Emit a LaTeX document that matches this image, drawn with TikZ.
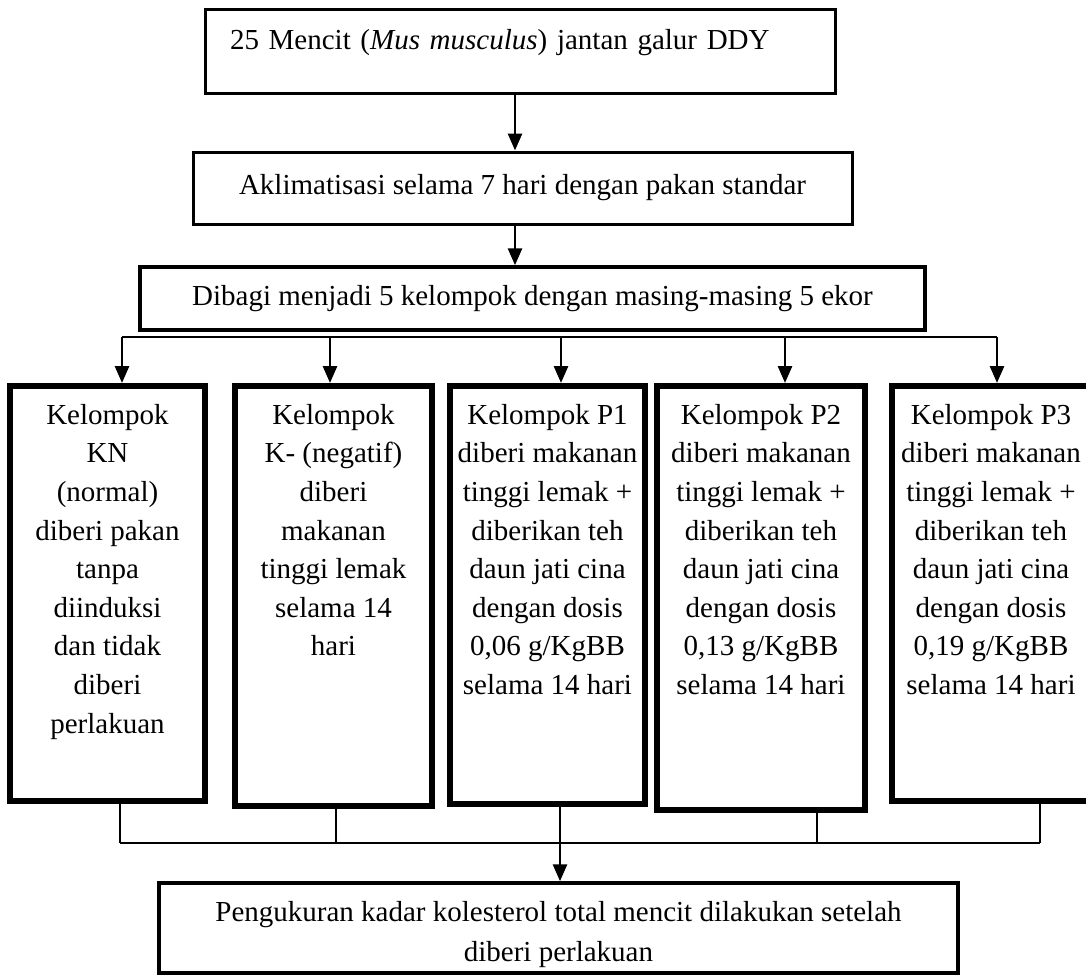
\documentclass[tikz,border=0pt]{standalone}
\usepackage{fontspec}
\setmainfont{Liberation Serif}
\usetikzlibrary{arrows.meta}

\begin{document}
\begin{tikzpicture}[x=1pt,y=-1pt,
    font=\fontsize{29}{38.6}\selectfont,
    box/.style={draw, line width=3pt, inner sep=0pt},
    grp/.style={draw, line width=5.5pt, anchor=north},
    grptext/.style={anchor=north, align=center, inner sep=0pt, yshift=-21pt},
    arr/.style={line width=2.8pt, -{Triangle[length=17pt,width=14pt]}},
    link/.style={line width=1.3pt}]
  \clip (0,0) rectangle (1086,974);

  % alur utama
  \node[box, minimum width=630pt, minimum height=83pt, text width=580pt, align=left,
        inner xsep=25pt, text height=20pt, text depth=25pt] (mencit) at (520,51.5)
        {25 Mencit (\textit{Mus musculus}) jantan galur DDY};
  \node[box, minimum width=659pt, minimum height=72pt] (aklim) at (522.5,188)
        {Aklimatisasi selama 7 hari dengan pakan standar};
  \node[box, line width=3.5pt, minimum width=785pt, minimum height=63pt] (bagi) at (532.5,298.5)
        {Dibagi menjadi 5 kelompok dengan masing-masing 5 ekor};
  \draw[arr] ([xshift=-5pt]mencit.south) -- ([xshift=-5pt]mencit.south |- aklim.north);
  \draw[arr] ([xshift=-7.5pt]aklim.south) -- ([xshift=-7.5pt]aklim.south |- bagi.north);

  % kelompok perlakuan
  \node[grp, minimum width=195pt, minimum height=415pt, label={[grptext]north:{Kelompok\\KN\\(normal)\\diberi pakan\\tanpa\\diinduksi\\dan tidak\\diberi\\perlakuan}}] (kn) at (107.5,383) {};
  \node[grp, minimum width=197pt, minimum height=420pt, label={[grptext]north:{Kelompok\\K- (negatif)\\diberi\\makanan\\tinggi lemak\\selama 14\\hari}}] (kneg) at (333.5,383) {};
  \node[grp, minimum width=195pt, minimum height=418pt, label={[grptext]north:{Kelompok P1\\diberi makanan\\tinggi lemak +\\diberikan teh\\daun jati cina\\dengan dosis\\0,06 g/KgBB\\selama 14 hari}}] (pa) at (547.5,383) {};
  \node[grp, minimum width=208pt, minimum height=424pt, label={[grptext]north:{Kelompok P2\\diberi makanan\\tinggi lemak +\\diberikan teh\\daun jati cina\\dengan dosis\\0,13 g/KgBB\\selama 14 hari}}] (pb) at (761,383) {};
  \node[grp, minimum width=198pt, minimum height=415pt, label={[grptext]north:{Kelompok P3\\diberi makanan\\tinggi lemak +\\diberikan teh\\daun jati cina\\dengan dosis\\0,19 g/KgBB\\selama 14 hari}}] (pc) at (991,383) {};

  % percabangan
  \coordinate (b1) at (122,337);
  \coordinate (b2) at (330,337);
  \coordinate (b3) at (561,337);
  \coordinate (b4) at (785,337);
  \coordinate (b5) at (997,337);
  \draw[link] (b1) -- (b5);
  \draw[arr] (b1) -- (b1 |- kn.north);
  \draw[arr] (b2) -- (b2 |- kneg.north);
  \draw[arr] (b3) -- (b3 |- pa.north);
  \draw[arr] (b4) -- (b4 |- pb.north);
  \draw[arr] (b5) -- (b5 |- pc.north);

  % pengukuran
  \node[box, line width=3.5pt, minimum width=799pt, minimum height=90pt, align=center] (ukur) at (558.5,928)
        {\rule{0pt}{34pt}Pengukuran kadar kolesterol total mencit dilakukan setelah\\[1.4pt]diberi perlakuan};
  \coordinate (g1) at (120,843);
  \coordinate (g2) at (336,843);
  \coordinate (g3) at (560,843);
  \coordinate (g4) at (817,843);
  \coordinate (g5) at (1040,843);
  \draw[link] (g1) -- (g5);
  \draw[link] (g1 |- kn.south) -- (g1);
  \draw[link] (g2 |- kneg.south) -- (g2);
  \draw[link] (g4 |- pb.south) -- (g4);
  \draw[link] (g5 |- pc.south) -- (g5);
  \draw[arr] (g3 |- pa.south) -- (g3 |- ukur.north);
\end{tikzpicture}
\end{document}
